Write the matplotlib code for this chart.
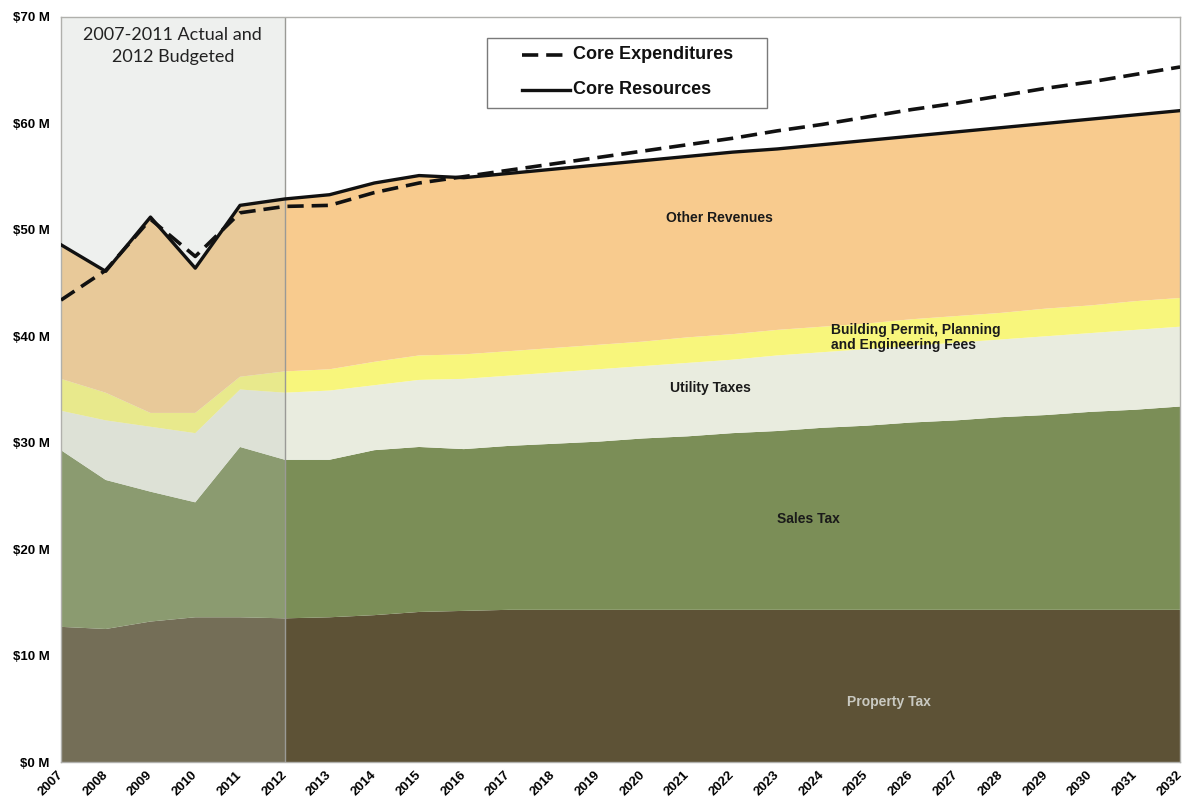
import matplotlib.pyplot as plt
import matplotlib.transforms as mtransforms
from matplotlib.lines import Line2D
from matplotlib.patches import Rectangle
import numpy as np

years = list(range(2007, 2033))

# revenue layers, $M (stack order bottom -> top)
property_tax = [12.7, 12.5, 13.2, 13.6, 13.6, 13.5, 13.6, 13.8, 14.1, 14.2, 14.3, 14.3, 14.3,
                14.3, 14.3, 14.3, 14.3, 14.3, 14.3, 14.3, 14.3, 14.3, 14.3, 14.3, 14.3, 14.3]
sales_top = [29.3, 26.5, 25.4, 24.4, 29.6, 28.4, 28.4, 29.3, 29.6, 29.4, 29.7, 29.9, 30.1,
             30.4, 30.6, 30.9, 31.1, 31.4, 31.6, 31.9, 32.1, 32.4, 32.6, 32.9, 33.1, 33.4]
utility_top = [33.0, 32.1, 31.5, 30.9, 35.0, 34.7, 34.9, 35.4, 35.9, 36.0, 36.3, 36.6, 36.9,
               37.2, 37.5, 37.8, 38.2, 38.5, 38.8, 39.1, 39.4, 39.7, 40.0, 40.3, 40.6, 40.9]
permits_top = [36.0, 34.7, 32.8, 32.8, 36.2, 36.7, 36.9, 37.6, 38.2, 38.3, 38.6, 38.9, 39.2,
               39.5, 39.9, 40.2, 40.6, 40.9, 41.2, 41.6, 41.9, 42.2, 42.6, 42.9, 43.3, 43.6]

core_resources = [48.6, 46.1, 51.2, 46.4, 52.3, 52.9, 53.3, 54.4, 55.1, 54.9, 55.3, 55.7, 56.1,
                  56.5, 56.9, 57.3, 57.6, 58.0, 58.4, 58.8, 59.2, 59.6, 60.0, 60.4, 60.8, 61.2]
core_expenditures = [43.4, 46.2, 51.0, 47.5, 51.6, 52.2, 52.3, 53.5, 54.4, 55.0, 55.6, 56.2, 56.8,
                     57.4, 58.0, 58.6, 59.3, 59.9, 60.6, 61.3, 61.9, 62.6, 63.3, 63.9, 64.6, 65.3]

x = np.array(years)
sales_tax = np.array(sales_top) - np.array(property_tax)
utility_taxes = np.array(utility_top) - np.array(sales_top)
permit_fees = np.array(permits_top) - np.array(utility_top)
other_revenues = np.array(core_resources) - np.array(permits_top)

LAYER_COLORS = ["#5d5236", "#7b8e57", "#e9ecdf", "#f8f67c", "#f8cb8e"]
BOLD = dict(family="Liberation Sans", fontweight="bold")
EXP_STYLE = dict(color="#111111", linewidth=2.6, linestyle=(0, (4.5, 2.2)))
RES_STYLE = dict(color="#111111", linewidth=2.4)

fig = plt.figure(figsize=(11.86, 8.08), dpi=100)
ax = fig.add_axes([0.0514, 0.0569, 0.9436, 0.9221])

ax.stackplot(x, property_tax, sales_tax, utility_taxes, permit_fees, other_revenues,
             colors=LAYER_COLORS, linewidth=0, zorder=1)

# actuals / budget year washed out
ax.axvspan(2007, 2012, color="#bcc4bc", alpha=0.25, linewidth=0, zorder=2)
ax.axvline(2012, color="#9a9a96", linewidth=1.0, zorder=2)

ax.plot(x, core_expenditures, zorder=4, **EXP_STYLE)
ax.plot(x, core_resources, zorder=3, **RES_STYLE)

ax.set_xlim(2007, 2032)
ax.set_ylim(0, 70)
ax.set_xticks(years)
ax.set_xticklabels([str(y) for y in years], rotation=45, ha="right", va="center",
                   rotation_mode="anchor", fontsize=9.5, **BOLD)
shift = mtransforms.ScaledTranslation(-4 / 72, 0, fig.dpi_scale_trans)
for lbl in ax.get_xticklabels():
    lbl.set_transform(lbl.get_transform() + shift)
ax.set_yticks(range(0, 71, 10))
ax.set_yticklabels([f"${v} M" for v in range(0, 71, 10)], fontsize=9.5, **BOLD)
ax.tick_params(length=0)
ax.tick_params(axis="y", pad=8)
ax.tick_params(axis="x", pad=8)
for s in ax.spines.values():
    s.set_color("#b0b0ac")
    s.set_linewidth(1.0)

ax.text(2009.5, 67.3, "2007-2011 Actual and\n2012 Budgeted", ha="center", va="center",
        fontsize=13, family="Lato", color="#222222", linespacing=1.45, zorder=5)

ax.text(2021.7, 51.1, "Other Revenues", ha="center", va="center", fontsize=10, color="#1a1a1a", **BOLD)
ax.text(2024.2, 39.9, "Building Permit, Planning\nand Engineering Fees", ha="left", va="center",
        fontsize=10, color="#1a1a1a", linespacing=1.1, **BOLD)
ax.text(2021.5, 35.1, "Utility Taxes", ha="center", va="center", fontsize=10, color="#1a1a1a", **BOLD)
ax.text(2023.7, 22.8, "Sales Tax", ha="center", va="center", fontsize=10, color="#1a1a1a", **BOLD)
ax.text(2025.5, 5.6, "Property Tax", ha="center", va="center", fontsize=10, color="#c9c9c1", **BOLD)


# legend box, placed in axes fractions
def ax_frac(px, py):
    return (px - 61) / 1119, (762 - py) / 745


x0, y0 = ax_frac(487, 108)
x1, y1 = ax_frac(767, 38)
ax.add_patch(Rectangle((x0, y0), x1 - x0, y1 - y0, transform=ax.transAxes, facecolor="white",
                       edgecolor="#7a7a7a", linewidth=1.0, zorder=6))
for py, label, style in [(55, "Core Expenditures", EXP_STYLE), (90, "Core Resources", RES_STYLE)]:
    ha0, ya = ax_frac(522, py)
    ha1, _ = ax_frac(570, py)
    ax.add_line(Line2D([ha0, ha1], [ya, ya], transform=ax.transAxes, zorder=7, **style))
    tx, _ = ax_frac(573, py)
    ax.text(tx, ya, label, transform=ax.transAxes, ha="left", va="center", fontsize=13,
            color="#111111", zorder=7, **BOLD)

fig.savefig("out.png", dpi=100)
